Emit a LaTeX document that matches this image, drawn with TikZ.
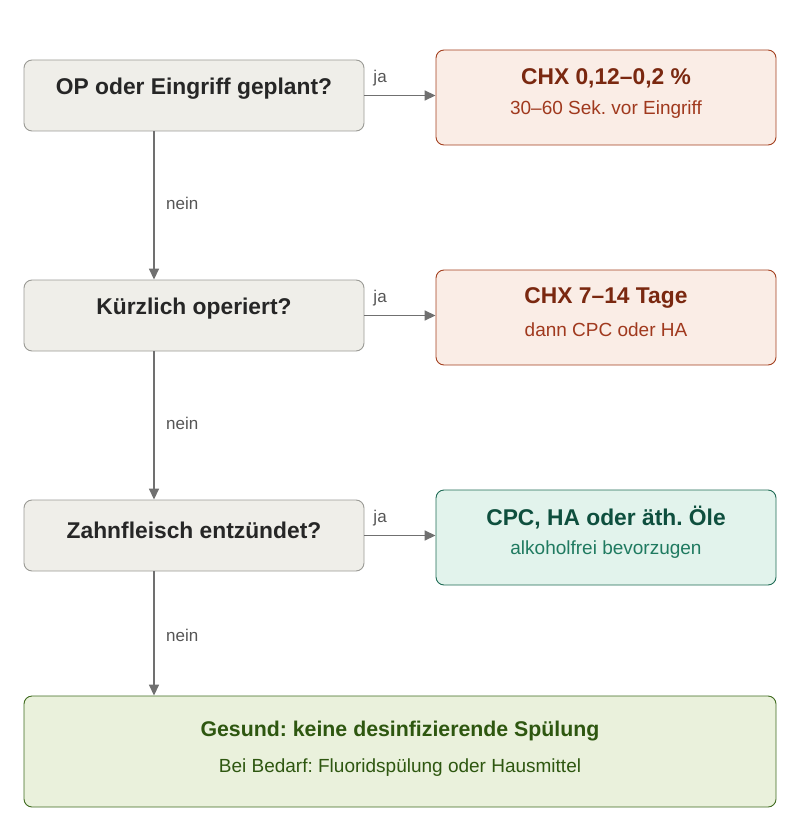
\documentclass[tikz,border=0pt]{standalone}
\usepackage{fontspec}
\setmainfont{Liberation Sans}
\frenchspacing
\usetikzlibrary{arrows.meta}
\definecolor{qfill}{HTML}{EFEEE9}\definecolor{qdraw}{HTML}{9A9A95}
\definecolor{rfill}{HTML}{FAEDE6}\definecolor{rdraw}{HTML}{A3401F}\definecolor{rtext}{HTML}{7A2810}\definecolor{rsub}{HTML}{A0391E}
\definecolor{tfill}{HTML}{E2F3EC}\definecolor{tdraw}{HTML}{1F6B55}\definecolor{ttext}{HTML}{0E4F3E}\definecolor{tsub}{HTML}{1F7A60}
\definecolor{gfill}{HTML}{EAF1DC}\definecolor{gdraw}{HTML}{3F6B1F}\definecolor{gtext}{HTML}{2E5710}
\definecolor{arr}{HTML}{707070}\definecolor{lab}{HTML}{555555}
\begin{document}
\begin{tikzpicture}[x=1pt,y=-1pt,
 box/.style={draw,rounded corners=8pt,line width=0.9pt,minimum width=340pt,inner sep=0pt},
 q/.style={box,fill=qfill,draw=qdraw,minimum height=71pt},
 qt/.style={font=\bfseries\fontsize{22.8}{26}\selectfont,text=black!85},
 r/.style={box,fill=rfill,draw=rdraw,minimum height=95pt},
 t/.style={box,fill=tfill,draw=tdraw,minimum height=95pt},
 ti/.style={font=\bfseries\fontsize{22.8}{26}\selectfont},
 su/.style={font=\fontsize{19}{22}\selectfont},
 ar/.style={draw=arr,line width=1.6pt,-{Triangle[length=11pt,width=10pt]}},
 lb/.style={text=lab,font=\fontsize{17}{20}\selectfont}]
\useasboundingbox (0,0) rectangle (800,840);
\node[q] (q1) at (194,95.5) {};
\node[q] (q2) at (194,315.5) {};
\node[q] (q3) at (194,535.5) {};
\node[qt] (q1t) at (194,89) {OP oder Eingriff geplant?};
\node[qt] (q2t) at (194,309) {Kürzlich operiert?};
\node[qt] (q3t) at (194,530) {Zahnfleisch entzündet?};
\node[r] (a1) at (606,97.5) {};
\node[r] (a2) at (606,317.5) {};
\node[t] (a3) at (606,537.5) {};
\node[ti,text=rtext] (a1t) at (606,78) {CHX 0,12–0,2 \%};
\node[su,text=rsub] (a1s) at (606,110) {30–60 Sek. vor Eingriff};
\node[ti,text=rtext] (a2t) at (606,298) {CHX 7–14 Tage};
\node[su,text=rsub] (a2s) at (606,330) {dann CPC oder HA};
\node[ti,text=ttext] (a3t) at (606,518) {CPC, HA oder äth. Öle};
\node[su,text=tsub] (a3s) at (606,550) {alkoholfrei bevorzugen};
\node[box,fill=gfill,draw=gdraw,minimum width=752pt,minimum height=111pt] (g) at (400,751.5) {};
\node[text=gtext,font=\bfseries\fontsize{21.3}{25}\selectfont] (gt) at (400,731) {Gesund: keine desinfizierende Spülung};
\node[text=gtext,su] (gs) at (400,768) {Bei Bedarf: Fluoridspülung oder Hausmittel};
\draw[ar] (q1.east) -- (a1.west |- q1.east) node[lb,pos=0.22,above=5pt] {ja};
\draw[ar] (q2.east) -- (a2.west |- q2.east) node[lb,pos=0.22,above=5pt] {ja};
\draw[ar] (q3.east) -- (a3.west |- q3.east) node[lb,pos=0.22,above=5pt] {ja};
\draw[ar] (q1.south -| 154,0) -- (q2.north -| 154,0) node[lb,midway,right=8pt,yshift=2pt] {nein};
\draw[ar] (q2.south -| 154,0) -- (q3.north -| 154,0) node[lb,midway,right=8pt,yshift=2pt] {nein};
\draw[ar] (q3.south -| 154,0) -- (g.north -| 154,0) node[lb,midway,right=8pt,yshift=-2pt] {nein};
\end{tikzpicture}
\end{document}
